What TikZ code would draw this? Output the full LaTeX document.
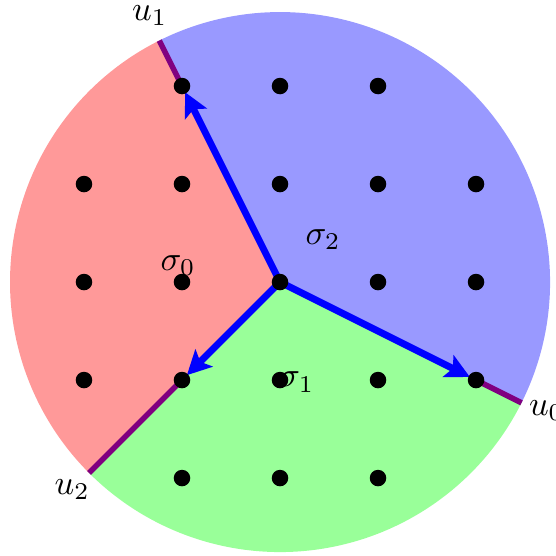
\documentclass[tikz,border=0pt]{standalone}
\usetikzlibrary{arrows.meta}
\usepackage{amsmath}

\begin{document}
\begin{tikzpicture}[x=1cm,y=1cm,>={Stealth[length=7pt,width=7pt,inset=1.5pt]}]
\useasboundingbox (-2.857,-2.786) rectangle (2.816,2.878);
\def\R{2.755}
% ---------- cones ----------
\coordinate (O) at (0,0);
\coordinate (u0) at (2,-1);
\coordinate (u1) at (-1,2);
\coordinate (u2) at (-1,-1);
\coordinate (b0) at (-26.565:\R);
\coordinate (b1) at (116.565:\R);
\coordinate (b2) at (225:\R);
\fill[blue!40]  (O) -- (b0) arc[start angle=-26.565, end angle=116.565, radius=\R] -- cycle;
\fill[red!40]   (O) -- (b1) arc[start angle=116.565, end angle=225, radius=\R] -- cycle;
\fill[green!40] (O) -- (b2) arc[start angle=225, end angle=333.435, radius=\R] -- cycle;
% rays beyond the generators
\draw[violet,line width=1.6pt] (u0) -- (b0)  (u1) -- (b1)  (u2) -- (b2);
% generators
\draw[->,blue,line width=2pt,shorten >=2pt] (O) -- (u0);
\draw[->,blue,line width=2pt,shorten >=2pt] (O) -- (u1);
\draw[->,blue,line width=2pt,shorten >=2pt] (O) -- (u2);
% lattice points
\foreach \x in {-2,...,2}{\foreach \y in {-2,...,2}{
  \ifnum\numexpr\x*\x+\y*\y\relax<8
    \fill (\x,\y) circle (2.4pt);
  \fi
}}
% labels
\node (s0) at (-1.04,0.17) {$\sigma_0$};
\node (s1) at (0.17,-1.02) {$\sigma_1$};
\node (s2) at (0.44,0.43) {$\sigma_2$};
\node (l0) at (2.72,-1.31) {$u_0$};
\node (l1) at (-1.33,2.72) {$u_1$};
\node (l2) at (-2.12,-2.12) {$u_2$};
\end{tikzpicture}
\end{document}
